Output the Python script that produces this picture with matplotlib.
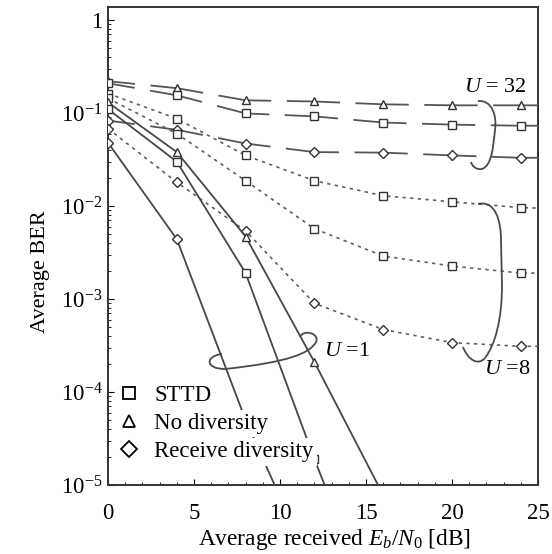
import matplotlib
matplotlib.use('Agg')
import matplotlib.pyplot as plt
from matplotlib.path import Path
from matplotlib.patches import PathPatch
from matplotlib.lines import Line2D
from matplotlib.ticker import FixedLocator, FuncFormatter, LogLocator, MultipleLocator
import numpy as np

plt.rcParams['font.family'] = ['Liberation Serif', 'DejaVu Serif']
plt.rcParams['mathtext.fontset'] = 'custom'
plt.rcParams['mathtext.rm'] = 'Liberation Serif'
plt.rcParams['mathtext.it'] = 'Liberation Serif:italic'

# Eb/N0 grid [dB]; the last point only carries the line to the right edge
snr_flat = [0, 4, 8, 12, 16, 20, 24, 25]
snr_steep = [0, 4, 8, 12, 16]

# U = 32 (long dashes)
u32_nodiv = [0.22, 0.185, 0.137, 0.133, 0.124, 0.121, 0.121, 0.121]
u32_sttd = [0.209, 0.155, 0.099, 0.092, 0.079, 0.075, 0.073, 0.073]
u32_rxdiv = [0.083, 0.066, 0.047, 0.038, 0.0375, 0.035, 0.033, 0.033]

# U = 8 (short dashes)
u8_nodiv = [0.162, 0.087, 0.035, 0.0187, 0.0129, 0.0111, 0.0096, 0.0095]
u8_sttd = [0.144, 0.060, 0.0187, 0.0057, 0.0029, 0.00226, 0.0019, 0.0019]
u8_rxdiv = [0.068, 0.018, 0.0054, 0.0009, 0.00047, 0.00034, 0.00031, 0.00031]

# U = 1 (solid)
u1_nodiv = [0.13, 0.038, 0.0047, 0.00021, 7.8e-6]
u1_sttd = [0.11, 0.030, 0.0019, 1.9e-5, 2.5e-7]
u1_rxdiv = [0.048, 0.0044, 5.0e-5, 1.1e-6, 1e-8]

legend_labels = ['STTD', 'No diversity', 'Receive diversity']

W, H = 552, 554
fig = plt.figure(figsize=(W / 100, H / 100), dpi=100)
L, R, T, B = 108, 538, 7, 485
ax = fig.add_axes([L / W, 1 - B / H, (R - L) / W, (B - T) / H])


def px(x, y):
    # picture pixel -> axes fraction (only for the hand-drawn braces)
    return ((x - L) / (R - L), (B - y) / (B - T))


mk = dict(markersize=6, markerfacecolor='white', markeredgecolor='#333333',
          markeredgewidth=1.0)
mk_d = dict(mk, markersize=5)

# long dashes centred on the markers, gaps half way between them
long_dash = dict(color='#555555', lw=1.3, linestyle=(14.5, (29.5, 8.6)))
short_dash = dict(color='#606060', lw=1.2, dashes=(2.0, 2.6))
solid = dict(color='#474747', lw=1.3, linestyle='-')

for ys, m in [(u32_nodiv, '^'), (u32_sttd, 's'), (u32_rxdiv, 'D')]:
    ax.plot(snr_flat, ys, marker=m, markevery=slice(0, 7), zorder=3,
            **long_dash, **(mk_d if m == 'D' else mk))
for ys, m in [(u8_nodiv, 's'), (u8_sttd, 's'), (u8_rxdiv, 'D')]:
    ax.plot(snr_flat, ys, marker=m, markevery=slice(0, 7), zorder=3,
            **short_dash, **(mk_d if m == 'D' else mk))
for ys, m in [(u1_nodiv, '^'), (u1_sttd, 's'), (u1_rxdiv, 'D')]:
    ax.plot(snr_steep, ys, marker=m, zorder=3,
            **solid, **(mk_d if m == 'D' else mk))

ax.set_yscale('log')
ax.set_xlim(0, 25)
ax.set_ylim(1e-5, 10 ** 0.14)

ax.xaxis.set_major_locator(MultipleLocator(5))
ax.xaxis.set_minor_locator(MultipleLocator(1))
ax.yaxis.set_major_locator(FixedLocator([1e-5, 1e-4, 1e-3, 1e-2, 1e-1, 1]))
ax.yaxis.set_minor_locator(LogLocator(base=10, subs=np.arange(2, 10)))


def ylab(v, pos):
    e = int(round(np.log10(v)))
    if e == 0:
        return '1'
    return r'$\mathregular{10^{-%d}}$' % -e


ax.yaxis.set_major_formatter(FuncFormatter(ylab))
ax.tick_params(which='both', direction='in', top=False, right=False)
ax.tick_params(axis='x', which='major', length=4, pad=13, labelsize=16.5)
ax.tick_params(axis='x', which='minor', length=2.5)
ax.tick_params(axis='y', which='major', length=4, pad=4, labelsize=16.5)
ax.tick_params(axis='y', which='minor', length=2.5)
for s in ax.spines.values():
    s.set_linewidth(1.4)
    s.set_color('#333333')

ax.set_xlabel(r'Average received $E_b/N_0$ [dB]', fontsize=16.8)
ax.xaxis.set_label_coords(0.526, -0.088)
ax.set_ylabel('Average BER', fontsize=16)
ax.yaxis.set_label_coords(-0.135, 0.446)

# group labels
ax.text(*px(495, 88), r'$U$ = 32', transform=ax.transAxes, fontsize=16,
        ha='center', va='center')
ax.text(*px(507, 370), r'$U$ =8', transform=ax.transAxes, fontsize=16,
        ha='center', va='center')
ax.text(*px(347, 352), r'$U$ =1', transform=ax.transAxes, fontsize=16,
        ha='center', va='center', zorder=5,
        bbox=dict(facecolor='white', edgecolor='none', pad=1.5))

# braces
MV, C4, LT = Path.MOVETO, Path.CURVE4, Path.LINETO
brace32 = [((478, 101), MV), ((492, 100), C4), ((497, 115), C4), ((495, 130), C4),
           ((493, 148), C4), ((492, 165), C4), ((482, 169), C4),
           ((476, 170), C4), ((472, 166), C4), ((471, 162), C4)]
brace8 = [((478, 204), MV), ((495, 200), C4), ((501, 220), C4), ((501, 240), C4),
          ((502, 285), LT), ((502, 320), C4), ((495, 345), C4), ((485, 358), C4),
          ((478, 366), C4), ((468, 360), C4), ((463, 347), C4)]
lasso1 = [((222, 354), MV), ((205, 356), C4), ((205, 369), C4), ((225, 369), C4),
          ((290, 362), C4), ((310, 353), C4), ((316, 342), C4),
          ((320, 333), C4), ((303, 329), C4), ((300, 337), C4)]
for shape in (brace32, brace8, lasso1):
    verts = [px(*p) for p, _ in shape]
    codes = [c for _, c in shape]
    ax.add_patch(PathPatch(Path(verts, codes), transform=ax.transAxes,
                           facecolor='none', edgecolor='#4a4a4a', lw=1.3,
                           zorder=4))

# legend (markers only); only the texts hide the curves behind them
handles = [Line2D([], [], linestyle='none', marker=m, markersize=8,
                  markerfacecolor='white', markeredgecolor='black',
                  markeredgewidth=1.3)
           for m in ['s', '^', 'D']]
leg = ax.legend(handles, legend_labels, loc='upper left',
                bbox_to_anchor=px(113, 380), fontsize=16.5, frameon=False,
                handlelength=1.0, handletextpad=0.6, labelspacing=0.32,
                borderaxespad=0, borderpad=0.2)
for t in leg.get_texts():
    t.set_bbox(dict(facecolor='white', edgecolor='none', pad=2.5))
leg.set_zorder(6)

fig.savefig('out.png', dpi=100)
